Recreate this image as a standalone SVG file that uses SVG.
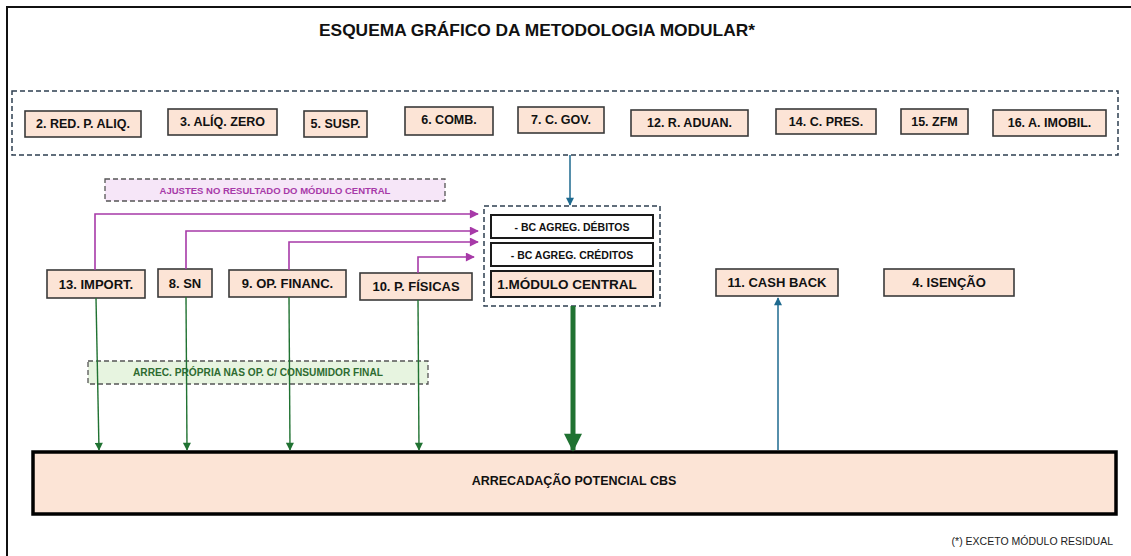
<svg xmlns="http://www.w3.org/2000/svg" width="1131" height="556" viewBox="0 0 1131 556">
<defs>
<style>
text{font-family:"Liberation Sans",Arial,sans-serif;font-weight:bold;text-anchor:middle;dominant-baseline:central}
.box{fill:#fce4d6;stroke:#3a3a3a;stroke-width:1.6}
.wbox{fill:#ffffff;stroke:#1a1a1a;stroke-width:2}
.dash{fill:none;stroke:#2e3f50;stroke-width:1.5;stroke-dasharray:5 3}
.t{font-size:12.5px;fill:#111}
.mag{fill:none;stroke:#a73aa8;stroke-width:1.6}
.grn{fill:none;stroke:#207232;stroke-width:1.4}
.blu{fill:none;stroke:#1e6a8f;stroke-width:1.5}
</style>
<marker id="am" viewBox="0 0 10 10" refX="9" refY="5" markerWidth="10" markerHeight="9" markerUnits="userSpaceOnUse" orient="auto"><path d="M0,0L10,5L0,10z" fill="#a73aa8"/></marker>
<marker id="ag" viewBox="0 0 10 10" refX="9" refY="5" markerWidth="9" markerHeight="8" markerUnits="userSpaceOnUse" orient="auto"><path d="M0,0L10,5L0,10z" fill="#207232"/></marker>
<marker id="agb" viewBox="0 0 10 10" refX="9" refY="5" markerWidth="20" markerHeight="18" markerUnits="userSpaceOnUse" orient="auto"><path d="M0,0L10,5L0,10z" fill="#207232"/></marker>
<marker id="ab" viewBox="0 0 10 10" refX="9" refY="5" markerWidth="9" markerHeight="8" markerUnits="userSpaceOnUse" orient="auto"><path d="M0,0L10,5L0,10z" fill="#1e6a8f"/></marker>
</defs>
<rect width="1131" height="556" fill="#ffffff"/>
<path d="M7,560V7H1131" fill="none" stroke="#111" stroke-width="2"/>
<text x="537" y="30" style="font-size:16.5px" fill="#111" textLength="436" lengthAdjust="spacingAndGlyphs">ESQUEMA GRÁFICO DA METODOLOGIA MODULAR*</text>

<g id="grupo-superior">
<rect class="dash" x="12" y="91" width="1106" height="64"/>
</g>
<g id="n2"><rect class="box" x="25" y="111" width="116" height="26"/><text class="t" x="83" y="124">2. RED. P. ALIQ.</text></g>
<g id="n3"><rect class="box" x="168" y="109" width="109" height="26"/><text class="t" x="222.5" y="122">3. ALÍQ. ZERO</text></g>
<g id="n5"><rect class="box" x="304" y="111" width="63" height="26"/><text class="t" x="335.5" y="124">5. SUSP.</text></g>
<g id="n6"><rect class="box" x="405" y="107" width="88" height="28"/><text class="t" x="449" y="120">6. COMB.</text></g>
<g id="n7"><rect class="box" x="518" y="107" width="86" height="26"/><text class="t" x="561" y="120">7. C. GOV.</text></g>
<g id="n12"><rect class="box" x="631" y="110" width="117" height="26"/><text class="t" x="689.5" y="123">12. R. ADUAN.</text></g>
<g id="n14"><rect class="box" x="776" y="109" width="100" height="25"/><text class="t" x="826" y="121.5">14. C. PRES.</text></g>
<g id="n15"><rect class="box" x="901" y="109" width="67" height="25"/><text class="t" x="934.5" y="121.5">15. ZFM</text></g>
<g id="n16"><rect class="box" x="993" y="110" width="113" height="26"/><text class="t" x="1049.5" y="123">16. A. IMOBIL.</text></g>

<g id="ajustes"><rect x="105" y="179" width="340" height="22" fill="#f6e6f8" stroke="#555" stroke-width="1.3" stroke-dasharray="5 3"/><text x="275" y="190" style="font-size:9.5px" fill="#a73aa8">AJUSTES NO RESULTADO DO MÓDULO CENTRAL</text></g>

<g id="modulo-central">
<rect class="dash" x="484" y="206" width="176" height="100"/>
<rect class="wbox" x="491" y="215" width="162" height="23"/><text x="572" y="226.5" style="font-size:10.5px" fill="#111">- BC AGREG. DÉBITOS</text>
<rect class="wbox" x="491" y="243" width="162" height="23"/><text x="572" y="254.5" style="font-size:10.5px" fill="#111">- BC AGREG. CRÉDITOS</text>
<rect x="491" y="271" width="162" height="26" fill="#fce4d6" stroke="#1a1a1a" stroke-width="2"/><text x="567" y="284" style="font-size:13.5px" fill="#111">1.MÓDULO CENTRAL</text>
</g>

<g id="n13"><rect class="box" x="47" y="270" width="98" height="28"/><text class="t" x="96" y="284" style="font-size:13px">13. IMPORT.</text></g>
<g id="n8"><rect class="box" x="158" y="269" width="54" height="28"/><text class="t" x="185" y="283" style="font-size:13px">8. SN</text></g>
<g id="n9"><rect class="box" x="229" y="270" width="117" height="27"/><text class="t" x="287.5" y="283.5" style="font-size:13px">9. OP. FINANC.</text></g>
<g id="n10"><rect class="box" x="360" y="273" width="112" height="27"/><text class="t" x="416" y="286.5" style="font-size:13px">10. P. FÍSICAS</text></g>
<g id="n11"><rect class="box" x="716" y="269" width="122" height="27"/><text class="t" x="777" y="282.5" style="font-size:13px">11. CASH BACK</text></g>
<g id="n4"><rect class="box" x="884" y="269" width="130" height="27"/><text class="t" x="949" y="282.5" style="font-size:13px">4. ISENÇÃO</text></g>

<g id="arrec"><rect x="88" y="361" width="340" height="23" fill="#e7f4e0" stroke="#555" stroke-width="1.3" stroke-dasharray="5 3"/><text x="258" y="372.5" style="font-size:10px" fill="#2e6b30" textLength="250" lengthAdjust="spacingAndGlyphs">ARREC. PRÓPRIA NAS OP. C/ CONSUMIDOR  FINAL</text></g>

<g id="cbs"><rect x="33" y="452" width="1083" height="62" fill="#fce4d6" stroke="#000" stroke-width="3.5"/><text x="574" y="481" style="font-size:12.5px" fill="#111">ARRECADAÇÃO POTENCIAL CBS</text></g>

<text x="1113" y="541" style="font-size:10.5px;font-weight:normal;text-anchor:end" fill="#222">(*) EXCETO MÓDULO RESIDUAL</text>

<g id="conectores">
<path class="blu" d="M570,155V205" marker-end="url(#ab)"/>
<path class="mag" d="M95,270V214H478" marker-end="url(#am)"/>
<path class="mag" d="M186,269V231H478" marker-end="url(#am)"/>
<path class="mag" d="M289,270V242H478" marker-end="url(#am)"/>
<path class="mag" d="M418,273V257H474" marker-end="url(#am)"/>
<path class="grn" d="M96,298L99,450" marker-end="url(#ag)"/>
<path class="grn" d="M186,297L187,450" marker-end="url(#ag)"/>
<path class="grn" d="M289,297L290,450" marker-end="url(#ag)"/>
<path class="grn" d="M418,300L419,450" marker-end="url(#ag)"/>
<path d="M573,306V450" fill="none" stroke="#207232" stroke-width="5" marker-end="url(#agb)"/>
<path class="blu" d="M778,450V298" marker-end="url(#ab)"/>
</g>
</svg>
